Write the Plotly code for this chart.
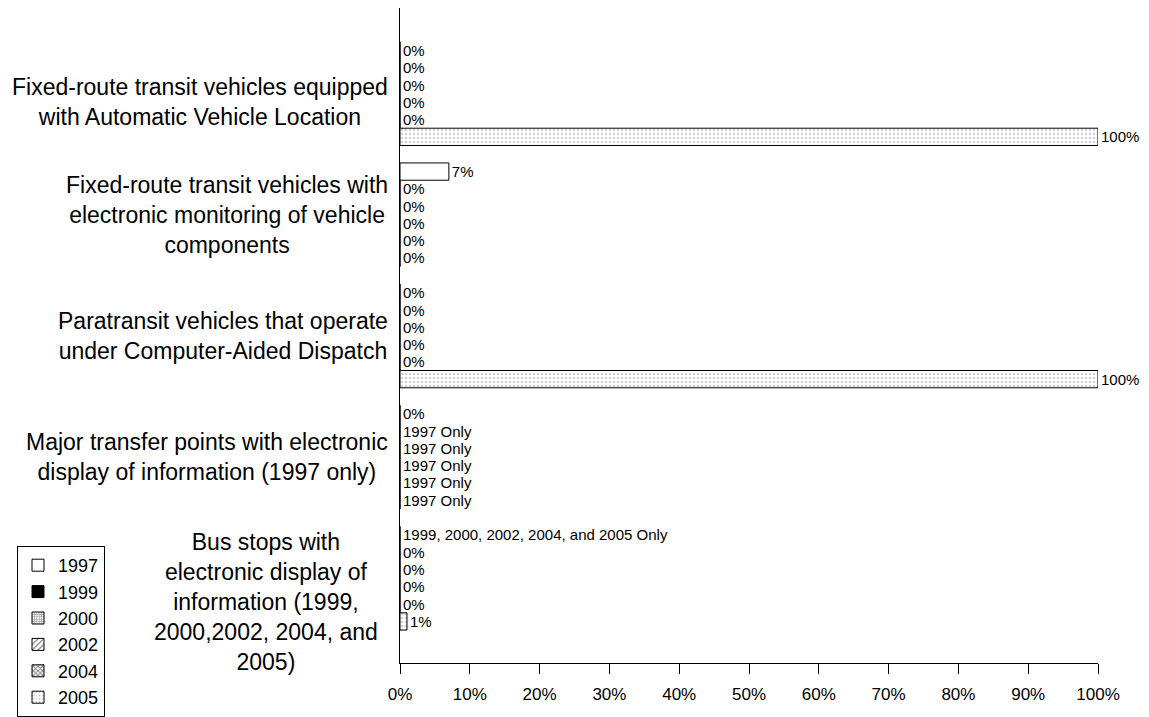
import plotly.graph_objects as go

categories = [
    "Fixed-route transit vehicles equipped<br>with Automatic Vehicle Location",
    "Fixed-route transit vehicles with<br>electronic monitoring of vehicle<br>components",
    "Paratransit vehicles that operate<br>under Computer-Aided Dispatch",
    "Major transfer points with electronic<br>display of information (1997 only)",
    "Bus stops with<br>electronic display of<br>information (1999,<br>2000,2002, 2004, and<br>2005)",
]

years = ["1997", "1999", "2000", "2002", "2004", "2005"]

values_1997 = [0, 7, 0, 0, 0]
values_1999 = [0, 0, 0, 0, 0]
values_2000 = [0, 0, 0, 0, 0]
values_2002 = [0, 0, 0, 0, 0]
values_2004 = [0, 0, 0, 0, 0]
values_2005 = [100, 0, 100, 0, 1]

labels_1997 = ["0%", "7%", "0%", "0%", "1999, 2000, 2002, 2004, and 2005 Only"]
labels_1999 = ["0%", "0%", "0%", "1997 Only", "0%"]
labels_2000 = ["0%", "0%", "0%", "1997 Only", "0%"]
labels_2002 = ["0%", "0%", "0%", "1997 Only", "0%"]
labels_2004 = ["0%", "0%", "0%", "1997 Only", "0%"]
labels_2005 = ["100%", "0%", "100%", "1997 Only", "1%"]

tick_vals = [0, 10, 20, 30, 40, 50, 60, 70, 80, 90, 100]
tick_text = ["0%", "10%", "20%", "30%", "40%", "50%", "60%", "70%", "80%", "90%", "100%"]

series_values = [values_1997, values_1999, values_2000, values_2002, values_2004, values_2005]
series_labels = [labels_1997, labels_1999, labels_2000, labels_2002, labels_2004, labels_2005]

styles = [
    dict(color="white", pattern=dict(shape="")),
    dict(color="black", pattern=dict(shape="")),
    dict(color="white", pattern=dict(shape="+", fgcolor="#333333", bgcolor="white", size=3, solidity=0.45)),
    dict(color="white", pattern=dict(shape="/", fgcolor="black", bgcolor="white", size=5, solidity=0.3)),
    dict(color="white", pattern=dict(shape="x", fgcolor="black", bgcolor="white", size=4, solidity=0.5)),
    dict(color="white", pattern=dict(shape=".", fgcolor="#a0a0a0", bgcolor="white", size=4, solidity=0.3)),
]

# category label nudges (pixels) to mimic the original label placement
label_xshift = [-10, -10, -10, -10, -20]
label_yshift = [-8, 0, 0, 0, -24]

FONT = "Liberation Sans, Arial, sans-serif"

fig = go.Figure()
for year, vals, labs, st in zip(years, series_values, series_labels, styles):
    fig.add_trace(go.Bar(
        y=categories, x=vals, orientation="h", name=year,
        text=labs, textposition="outside", constraintext="none", cliponaxis=False,
        textfont=dict(family=FONT, size=15, color="black"),
        marker=dict(color=st["color"], pattern=st["pattern"],
                    line=dict(color="black", width=1)),
        legendgroup=year,
        hoverinfo="skip",
    ))

for cat, dx, dy in zip(categories, label_xshift, label_yshift):
    fig.add_annotation(
        xref="paper", x=0, yref="y", y=cat, text=cat, showarrow=False,
        xanchor="right", yanchor="middle", align="center",
        xshift=dx, yshift=dy,
        font=dict(family=FONT, size=23, color="black"),
    )

# the page body adds an 8px offset, so the figure is sized to fit the window
fig.update_layout(
    width=1141, height=709,
    margin=dict(l=392, r=51, t=0, b=49),
    paper_bgcolor="white", plot_bgcolor="white",
    barmode="group", bargap=0.144, bargroupgap=0,
    font=dict(family=FONT, color="black"),
    showlegend=True,
    legend=dict(
        x=-0.5487, y=0.178, xanchor="left", yanchor="top",
        bordercolor="black", borderwidth=1, bgcolor="white",
        font=dict(family=FONT, size=18, color="black"),
        traceorder="normal", tracegroupgap=2,
    ),
)

fig.update_xaxes(
    range=[0, 100], tickvals=tick_vals, ticktext=tick_text,
    showline=True, linecolor="black", linewidth=1,
    ticks="outside", ticklen=10, tickcolor="black",
    tickfont=dict(family=FONT, size=17, color="black"),
    showgrid=False, zeroline=False, ticklabelstandoff=6,
)
fig.update_yaxes(
    range=[4.70, -0.707], showline=True, linecolor="black", linewidth=1,
    ticks="", showgrid=False, zeroline=False, showticklabels=False,
)

fig.write_html("out.html")
